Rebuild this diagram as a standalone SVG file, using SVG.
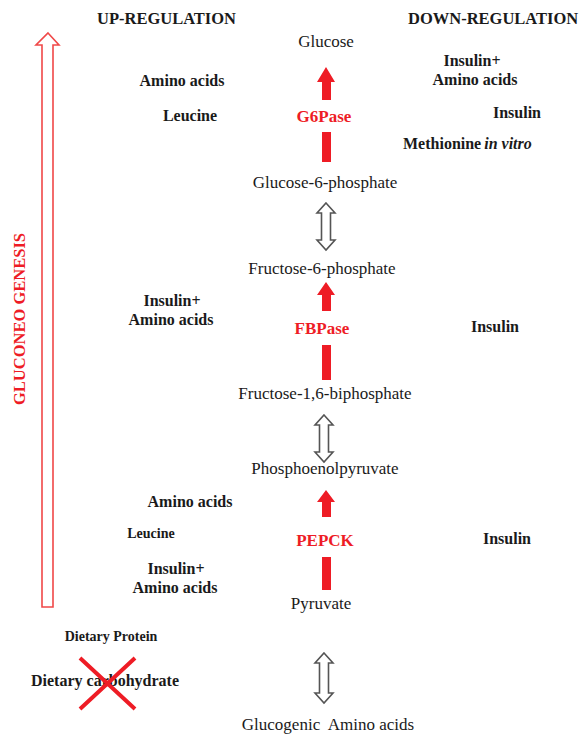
<svg xmlns="http://www.w3.org/2000/svg" width="582" height="736" viewBox="0 0 582 736">
<style>
text{font-family:"Liberation Serif","Times New Roman",serif}
.n{font-size:17px;fill:#1a1a1a;text-anchor:middle}
.b{font-size:16px;font-weight:bold;fill:#1a1a1a;text-anchor:middle}
.s{font-size:14px;font-weight:bold;fill:#1a1a1a;text-anchor:middle}
.h{font-size:16.5px;font-weight:bold;fill:#1a1a1a}
.e{font-size:17px;font-weight:bold;fill:#ee1c25;text-anchor:middle}
.ra{fill:#ee1c25;stroke:none}
.da{fill:#ffffff;stroke:#555555;stroke-width:1.6;stroke-linejoin:miter}
</style>
<rect width="582" height="736" fill="#ffffff"/>
<g id="headers">
<text class="h" x="97" y="24">UP-REGULATION</text>
<text class="h" x="408" y="24">DOWN-REGULATION</text>
</g>
<g id="gluconeogenesis">
<path d="M48,33 L59,45 L53,45 L53,607 L42,607 L42,45 L36,45 Z" fill="none" stroke="#f04848" stroke-width="1.6"/>
<text x="0" y="0" transform="translate(25,319) rotate(-90)" text-anchor="middle" font-size="16" font-weight="bold" fill="#ee1c25" textLength="172" lengthAdjust="spacingAndGlyphs">GLUCONEO GENESIS</text>
</g>
<g id="glucose"><text class="n" x="326" y="47">Glucose</text></g>
<g id="g6pase"><text class="e" x="324" y="122">G6Pase</text></g>
<g id="glucose-6-phosphate"><text class="n" x="325" y="188">Glucose-6-phosphate</text></g>
<g id="fructose-6-phosphate"><text class="n" x="322" y="274">Fructose-6-phosphate</text></g>
<g id="fbpase"><text class="e" x="322" y="334">FBPase</text></g>
<g id="fructose-16-biphosphate"><text class="n" x="325" y="399">Fructose-1,6-biphosphate</text></g>
<g id="phosphoenolpyruvate"><text class="n" x="325" y="474">Phosphoenolpyruvate</text></g>
<g id="pepck"><text class="e" x="325" y="546">PEPCK</text></g>
<g id="pyruvate"><text class="n" x="321" y="609">Pyruvate</text></g>
<g id="glucogenic-amino-acids"><text class="n" x="328" y="730" xml:space="preserve">Glucogenic  Amino acids</text></g>
<g id="up-g6pase">
<text class="b" x="182" y="86">Amino acids</text>
<text class="b" x="190" y="121">Leucine</text>
</g>
<g id="down-g6pase">
<text class="b" x="472" y="66">Insulin+</text>
<text class="b" x="475" y="85">Amino acids</text>
<text class="b" x="517" y="118">Insulin</text>
<text class="b" x="403" y="149" text-anchor="start" style="text-anchor:start">Methionine<tspan font-style="italic" dx="3">in vitro</tspan></text>
</g>
<g id="up-fbpase">
<text class="b" x="172" y="306">Insulin+</text>
<text class="b" x="171" y="325">Amino acids</text>
</g>
<g id="down-fbpase"><text class="b" x="495" y="332">Insulin</text></g>
<g id="up-pepck">
<text class="b" x="190" y="507">Amino acids</text>
<text class="s" x="151" y="538">Leucine</text>
<text class="b" x="176" y="574">Insulin+</text>
<text class="b" x="175" y="593">Amino acids</text>
</g>
<g id="down-pepck"><text class="b" x="507" y="544">Insulin</text></g>
<g id="diet">
<text class="s" x="111" y="641">Dietary Protein</text>
<text class="b" x="105" y="686">Dietary carbohydrate</text>
<path d="M80,658 L135,709 M135,658 L80,709" stroke="#ee1c25" stroke-width="4" fill="none"/>
</g>
<g id="connectors">
<path class="ra" d="M326,67 L335,82 L331,82 L331,100 L322,100 L322,82 L317,82 Z"/>
<rect class="ra" x="322" y="132" width="9" height="30"/>
<path class="ra" d="M326,282 L335,295 L331,295 L331,311 L322,311 L322,295 L317,295 Z"/>
<rect class="ra" x="322" y="345" width="9" height="35"/>
<path class="ra" d="M326,490 L335,502 L331,502 L331,517 L322,517 L322,502 L317,502 Z"/>
<rect class="ra" x="322" y="557" width="9" height="33"/>
<path class="da" d="M326,203 L335,213 L330.5,213 L330.5,240 L335,240 L326,250 L317,240 L321.5,240 L321.5,213 L317,213 Z"/>
<path class="da" d="M324,415 L333,425 L328.5,425 L328.5,452 L333,452 L324,462 L315,452 L319.5,452 L319.5,425 L315,425 Z"/>
<path class="da" d="M324,653 L333,663 L328.5,663 L328.5,693 L333,693 L324,703 L315,693 L319.5,693 L319.5,663 L315,663 Z"/>
</g>
</svg>
